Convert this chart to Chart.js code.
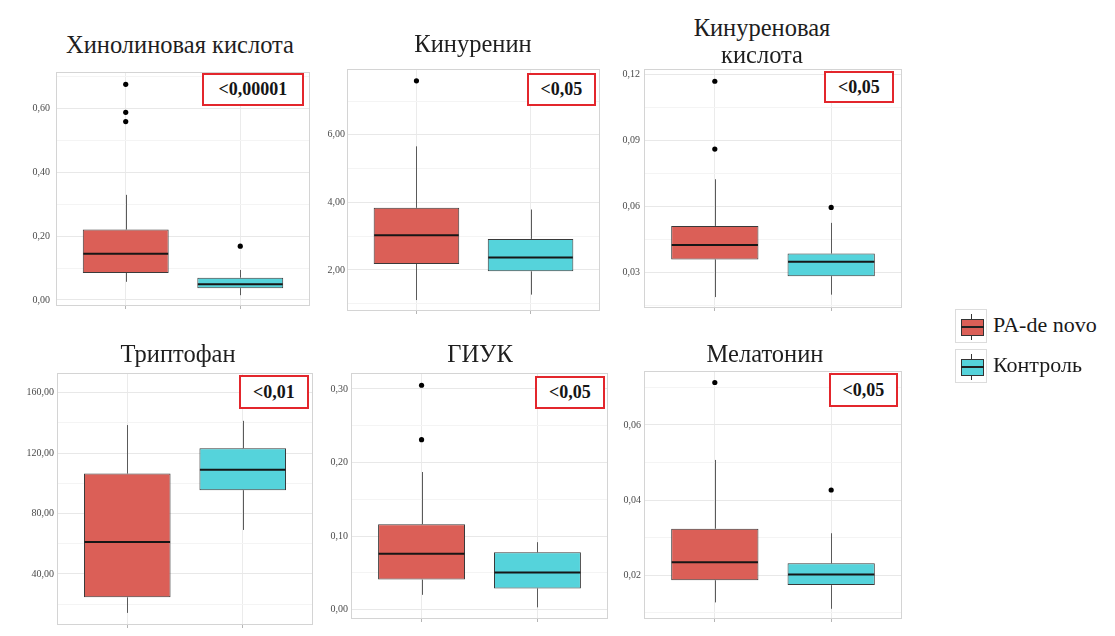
<!DOCTYPE html>
<html lang="ru">
<head>
<meta charset="utf-8">
<title>Метаболиты кинуренинового пути</title>
<script src="https://cdn.jsdelivr.net/npm/chart.js@4.4.1/dist/chart.umd.min.js"></script>
<style>
  html, body { margin: 0; padding: 0; background: #fff; }
  body { width: 1115px; height: 636px; position: relative; overflow: hidden;
         font-family: "Liberation Serif", "DejaVu Serif", serif; color: #1a1a1a; }
  canvas.panel { position: absolute; }
  .title { position: absolute; font-size: 24.5px; line-height: 24px; white-space: nowrap;
           transform: translateX(-50%); color: #1e1e1e; }
  .pval { position: absolute; box-sizing: border-box; border: 2px solid #e3262c; background: #fff;
          font-weight: bold; font-size: 18px; color: #151515;
          display: flex; align-items: center; justify-content: center; }
  .legend { position: absolute; left: 955px; top: 309px; }
  .legend .row { position: relative; height: 40px; }
  .legend .key { position: absolute; left: 0; top: 0; width: 32px; height: 34px;
                 box-sizing: border-box; border: 1px solid #dcdcdc; background: #fff; }
  .legend .whisk { position: absolute; left: 15px; top: 4px; width: 1px; height: 26px; background: #333; }
  .legend .box { position: absolute; left: 5px; top: 9px; width: 21px; height: 15px;
                 border: 1px solid #333; }
  .legend .med { position: absolute; left: 5px; top: 16px; width: 23px; height: 2px; background: #222; }
  .legend .lbl { position: absolute; left: 38px; top: 3px; font-size: 22px; line-height: 26px; white-space: nowrap; }
</style>
</head>
<body>
<script>
// ---- groups, titles, significance ----
const groups = ['PA-de novo', 'Контроль'];
const groupColors = ['#db5f57', '#55d3db'];
const panelTitles = [['Хинолиновая кислота'], ['Кинуренин'], ['Кинуреновая', 'кислота'],
                     ['Триптофан'], ['ГИУК'], ['Мелатонин']];
const pValues = ['<0,00001', '<0,05', '<0,05', '<0,01', '<0,05', '<0,05'];

// ---- PA-de novo: five-number summaries and outliers, one entry per panel ----
const paLow    = [0.057, 1.11, 0.0190, 14.2, 0.020, 0.0128];
const paQ1     = [0.085, 2.18, 0.0361, 24.5, 0.0407, 0.0187];
const paMedian = [0.145, 3.03, 0.0427, 61.1, 0.076, 0.0235];
const paQ3     = [0.221, 3.84, 0.0513, 106.4, 0.116, 0.0324];
const paHigh   = [0.330, 5.66, 0.0725, 138.5, 0.187, 0.0507];
const paOutliers = [[0.677, 0.589, 0.560], [7.60], [0.117, 0.0862], [], [0.305, 0.231], [0.0713]];

// ---- Контроль ----
const ctlLow    = [0.015, 1.27, 0.0201, 69.1, 0.003, 0.0111];
const ctlQ1     = [0.037, 1.96, 0.0285, 95.4, 0.0287, 0.0174];
const ctlMedian = [0.049, 2.37, 0.0351, 109.0, 0.0505, 0.0202];
const ctlQ3     = [0.070, 2.92, 0.0388, 123.2, 0.078, 0.0232];
const ctlHigh   = [0.094, 3.79, 0.0527, 141.3, 0.0916, 0.0312];
const ctlOutliers = [[0.169], [], [0.0597], [], [], [0.0427]];

// ---- y axes: labelled ticks and visible range ----
const yTicks = [[0, 0.2, 0.4, 0.6], [2, 4, 6], [0.03, 0.06, 0.09, 0.12],
                [40, 80, 120, 160], [0, 0.1, 0.2, 0.3], [0.02, 0.04, 0.06]];
const yMin = [-0.0158, 0.815, 0.0145, 6.85, -0.0115, 0.00865];
const yMax = [0.7125, 7.92, 0.1221, 172.3, 0.3203, 0.0741];

// ---- page layout (plot rectangles, title anchors, badge boxes) ----
const plotRects = [
  { l: 57,  r: 310, t: 68,  b: 312, pad: 7 },
  { l: 348, r: 600, t: 69,  b: 313, pad: 3 },
  { l: 645, r: 902, t: 67,  b: 312, pad: 5 },
  { l: 58,  r: 312, t: 372, b: 628, pad: 4 },
  { l: 352, r: 608, t: 372, b: 622, pad: 4 },
  { l: 645, r: 902, t: 370, b: 622, pad: 4 }
];
const titleAnchors = [ // centre x, baseline of first line, line step
  { x: 180, base: 53 }, { x: 473, base: 52 }, { x: 762, base: 36, step: 27 },
  { x: 178, base: 362 }, { x: 480, base: 362 }, { x: 765, base: 362 }
];
const badgeRects = [
  { l: 202, t: 73, w: 102, h: 33 }, { l: 527, t: 73, w: 69, h: 33 }, { l: 824, t: 71, w: 70, h: 32 },
  { l: 239, t: 375, w: 70, h: 34 }, { l: 535, t: 376, w: 70, h: 33 }, { l: 829, t: 373, w: 69, h: 34 }
];

const AXIS_W = 50, PAD_TOP = 8, PAD_RIGHT = 3, TICK_LEN = 4, PAD_BOTTOM = 2;

function fmt(v) { return v.toFixed(2).replace('.', ','); }

function boxPlugin(stats) {
  return {
    id: 'boxWhiskers',
    beforeDatasetsDraw(chart) {
      const { ctx, scales: { x, y } } = chart;
      ctx.save();
      ctx.strokeStyle = '#5a5a5a';
      ctx.lineWidth = 1;
      stats.forEach(s => {
        const px = Math.round(x.getPixelForValue(s.x)) + 0.5;
        ctx.beginPath();
        ctx.moveTo(px, y.getPixelForValue(s.low));
        ctx.lineTo(px, y.getPixelForValue(s.q1));
        ctx.moveTo(px, y.getPixelForValue(s.q3));
        ctx.lineTo(px, y.getPixelForValue(s.high));
        ctx.stroke();
      });
      ctx.restore();
    },
    afterDatasetsDraw(chart) {
      const { ctx, scales: { y } } = chart;
      const bars = chart.getDatasetMeta(0).data;
      ctx.save();
      ctx.strokeStyle = '#161616';
      ctx.lineWidth = 2;
      stats.forEach((s, i) => {
        const bar = bars[i];
        const py = y.getPixelForValue(s.median);
        ctx.beginPath();
        ctx.moveTo(bar.x - bar.width / 2 + 0.5, py);
        ctx.lineTo(bar.x + bar.width / 2 - 0.5, py);
        ctx.stroke();
      });
      ctx.restore();
    },
    afterDraw(chart) {
      const { ctx, chartArea: a } = chart;
      ctx.save();
      ctx.strokeStyle = '#d4d4d4';
      ctx.lineWidth = 1;
      ctx.strokeRect(Math.round(a.left) - 0.5, Math.round(a.top) - 0.5,
                     Math.round(a.right - a.left) + 1, Math.round(a.bottom - a.top) + 1);
      ctx.restore();
    }
  };
}

for (let p = 0; p < 6; p++) {
  const rect = plotRects[p];
  const canvas = document.createElement('canvas');
  canvas.className = 'panel';
  const w = (rect.r - rect.l) + AXIS_W + PAD_RIGHT;
  const h = (rect.b - rect.t) + PAD_TOP + TICK_LEN + PAD_BOTTOM;
  canvas.width = w; canvas.height = h;
  canvas.style.left = (rect.l - AXIS_W) + 'px';
  canvas.style.top = (rect.t - PAD_TOP) + 'px';
  canvas.style.width = w + 'px'; canvas.style.height = h + 'px';
  document.body.appendChild(canvas);

  const stats = [
    { x: 1, low: paLow[p], q1: paQ1[p], median: paMedian[p], q3: paQ3[p], high: paHigh[p] },
    { x: 2, low: ctlLow[p], q1: ctlQ1[p], median: ctlMedian[p], q3: ctlQ3[p], high: ctlHigh[p] }
  ];
  const outlierPoints = paOutliers[p].map(v => ({ x: 1, y: v }))
    .concat(ctlOutliers[p].map(v => ({ x: 2, y: v })));

  // major ticks carry labels, minor ticks sit half-way between them
  const major = yTicks[p];
  const step = major[1] - major[0];
  const tickList = [];
  for (let v = major[0] - step / 2; v <= yMax[p] + 1e-12; v += step / 2) {
    if (v < yMin[p] - 1e-12) continue;
    const isMajor = major.some(m => Math.abs(m - v) < step * 1e-6);
    tickList.push({ value: v, major: isMajor });
  }
  for (let v = major[0] - step; v >= yMin[p]; v -= step / 2) {
    tickList.unshift({ value: v, major: false });
  }

  new Chart(canvas, {
    type: 'bar',
    data: {
      datasets: [
        {
          label: groups.join(' / '),
          data: stats.map(s => ({ x: s.x, y: [s.q1, s.q3] })),
          backgroundColor: groupColors,
          borderColor: '#3a3a3a',
          borderWidth: 1,
          borderSkipped: false,
          barPercentage: 0.75,
          categoryPercentage: 1,
          order: 2
        },
        {
          type: 'scatter',
          label: 'выбросы',
          data: outlierPoints,
          pointRadius: 2.6,
          pointBackgroundColor: '#000',
          pointBorderWidth: 0,
          order: 1
        }
      ]
    },
    options: {
      responsive: false,
      animation: false,
      events: [],
      layout: { padding: { top: PAD_TOP, right: PAD_RIGHT, bottom: PAD_BOTTOM, left: 0 } },
      plugins: { legend: { display: false }, tooltip: { enabled: false }, title: { display: false } },
      scales: {
        x: {
          type: 'linear', min: 0.4, max: 2.6, offset: false,
          afterBuildTicks: s => { s.ticks = [{ value: 1 }, { value: 2 }]; },
          ticks: { display: false },
          grid: { offset: false, color: '#ebebeb', lineWidth: 1, drawTicks: true,
                  tickLength: TICK_LEN, tickColor: '#b5b5b5' },
          border: { display: false }
        },
        y: {
          type: 'linear', min: yMin[p], max: yMax[p],
          afterBuildTicks: s => { s.ticks = tickList.map(t => ({ value: t.value, major: t.major })); },
          afterFit: s => { s.width = AXIS_W; },
          ticks: {
            autoSkip: false,
            padding: rect.pad,
            color: '#4a4a4a',
            font: { family: 'Liberation Serif', size: 10 },
            callback: function (value, index, ticks) { return ticks[index].major ? fmt(value) : ''; }
          },
          grid: {
            drawTicks: false,
            color: c => (c.tick && c.tick.major) ? '#e8e8e8' : '#f4f4f4',
            lineWidth: 1
          },
          border: { display: false }
        }
      }
    },
    plugins: [boxPlugin(stats)]
  });

  // title lines
  const ta = titleAnchors[p];
  panelTitles[p].forEach((line, i) => {
    const d = document.createElement('div');
    d.className = 'title';
    d.textContent = line;
    d.style.left = ta.x + 'px';
    d.style.top = (ta.base + i * (ta.step || 0) - 20) + 'px';
    document.body.appendChild(d);
  });

  // significance badge
  const br = badgeRects[p];
  const badge = document.createElement('div');
  badge.className = 'pval';
  badge.textContent = pValues[p];
  Object.assign(badge.style, { left: br.l + 'px', top: br.t + 'px', width: br.w + 'px', height: br.h + 'px' });
  document.body.appendChild(badge);
}

// shared legend
const legend = document.createElement('div');
legend.className = 'legend';
groups.forEach((g, i) => {
  const row = document.createElement('div');
  row.className = 'row';
  row.innerHTML = '<div class="key"><div class="whisk"></div><div class="box" style="background:' +
    groupColors[i] + '"></div><div class="med"></div></div><div class="lbl"></div>';
  row.querySelector('.lbl').textContent = g;
  legend.appendChild(row);
});
document.body.appendChild(legend);
</script>
</body>
</html>
